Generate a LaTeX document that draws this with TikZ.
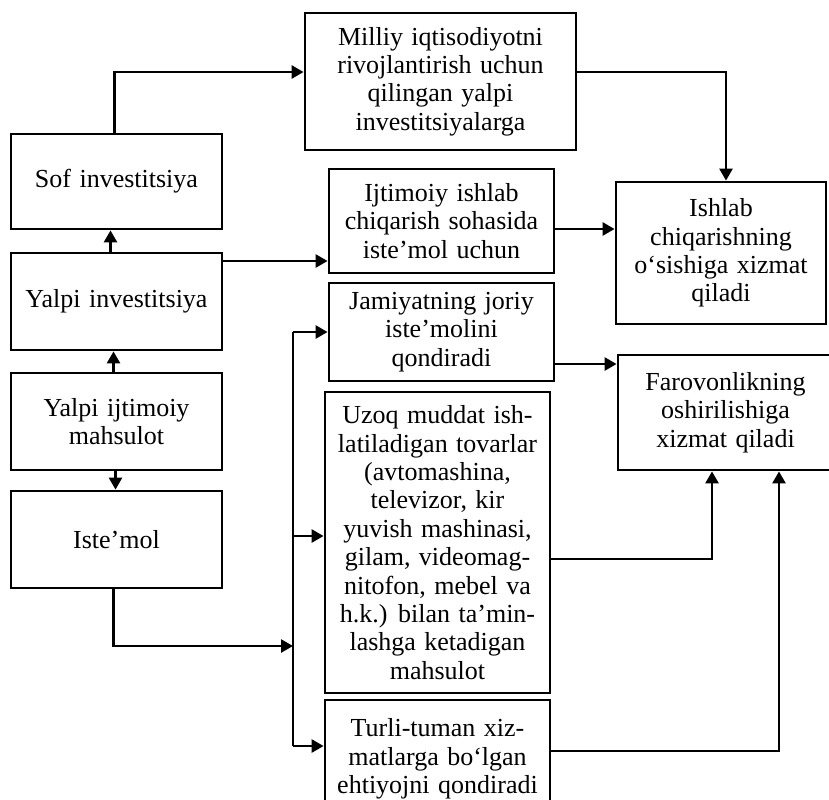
\documentclass[tikz,border=0pt]{standalone}
\usepackage{fontspec}
\setmainfont{Liberation Serif}[WordSpace=1.3]
\usetikzlibrary{arrows.meta}
\begin{document}
\begin{tikzpicture}[x=0.5pt,y=-0.5pt,
  box/.style={draw,line width=1.4pt,align=center,inner sep=0pt,
    font=\fontsize{13}{14.2}\selectfont},
  conn/.style={line width=1.3pt},
  arr/.style={conn,-{Triangle[length=6pt,width=6.5pt]}}]
\useasboundingbox (0,0) rectangle (829,799);
\clip (0,0) rectangle (829,799);
% left column
\node[box,minimum width=105.5pt,minimum height=47.5pt] (sof) at (116.5,181.5) {Sof investitsiya};
\node[box,minimum width=105.5pt,minimum height=48.5pt] (yinv) at (116.5,301.5) {Yalpi investitsiya};
\node[box,minimum width=105.5pt,minimum height=48.5pt] (yijt) at (116.5,421.5) {Yalpi ijtimoiy\\mahsulot};
\node[box,minimum width=105.5pt,minimum height=48.5pt] (ist) at (116.5,539.5) {Iste’mol};
% middle column
\node[box,minimum width=135.5pt,minimum height=68.5pt] (mil) at (440.5,81.5) {Milliy iqtisodiyotni\\rivojlantirish uchun\\qilingan yalpi\\investitsiyalarga};
\node[box,minimum width=112.5pt,minimum height=52pt] (ijt) at (441.5,221) {Ijtimoiy ishlab\\chiqarish sohasida\\iste’mol uchun};
\node[box,minimum width=112.5pt,minimum height=49pt] (jam) at (441.5,332) {Jamiyatning joriy\\iste’molini\\qondiradi};
\node[box,minimum width=112.5pt,minimum height=150.5pt] (uzo) at (437.5,542.5) {Uzoq muddat ish-\\latiladigan tovarlar\\(avtomashina,\\televizor, kir\\yuvish mashinasi,\\gilam, videomag-\\nitofon, mebel va\\h.k.) bilan ta’min-\\lashga ketadigan\\mahsulot};
\node[box,minimum width=112.5pt,minimum height=59pt] (tur) at (437.5,759) {Turli-tuman xiz-\\matlarga bo‘lgan\\ehtiyojni qondiradi};
% right column
\node[box,minimum width=105pt,minimum height=71pt] (ish) at (721,253) {Ishlab\\chiqarishning\\o‘sishiga xizmat\\qiladi};
\node[box,minimum width=107.5pt,minimum height=57.5pt] (far) at (725.5,412.5) {Farovonlikning\\oshirilishiga\\xizmat qiladi};
% connectors
\draw[arr] ([xshift=-1pt]sof.north) |- ([yshift=4.75pt]mil.west);
\draw[arr] ([yshift=4.75pt]mil.east) -| ([xshift=2.5pt]ish.north);
\draw[arr] ([xshift=-3pt]yinv.north) -- ([xshift=-3pt]sof.south);
\draw[arr] ([xshift=-1.5pt]yijt.north) -- ([xshift=-1.5pt]yinv.south);
\draw[arr] ([xshift=-0.5pt]yijt.south) -- ([xshift=-0.5pt]ist.north);
\draw[arr] ([yshift=20.25pt]yinv.east) coordinate (p1) -- (p1 -| ijt.west);
\draw[arr] ([yshift=-4pt]ijt.east) coordinate (p2) -- (p2 -| ish.west);
\draw[arr] ([yshift=-16pt]jam.east) coordinate (p3) -- (p3 -| far.west);
\draw[arr] ([yshift=-8.25pt]uzo.east) -| ([xshift=-6.75pt]far.south);
\draw[arr] ([yshift=4pt]tur.east) -| ([xshift=26.75pt]far.south);
% bus
\coordinate (b1) at (293,332);
\coordinate (b2) at (293,746);
\coordinate (b3) at (293,646);
\draw[conn] (b1) -- (b2);
\draw[arr] (b1) -- (jam.west);
\draw[arr] (b1 |- uzo.west) ++(0,-6.5) coordinate (p4) -- (p4 -| uzo.west);
\draw[arr] (b2) -- (b2 -| tur.west);
\draw[arr] ([xshift=-1.5pt]ist.south) |- (b3);
\end{tikzpicture}
\end{document}
